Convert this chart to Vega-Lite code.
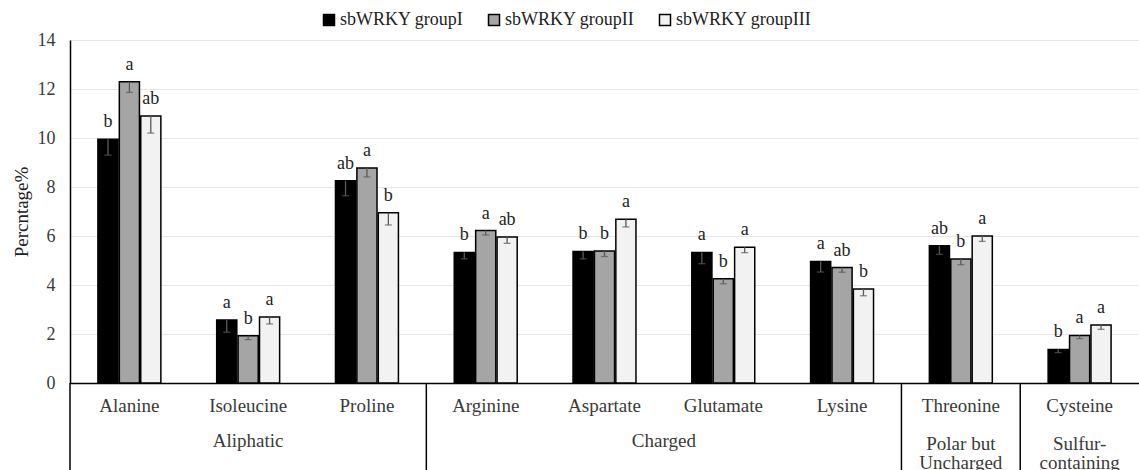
{
  "$schema": "https://vega.github.io/schema/vega-lite/v6.json",
  "width": 1069,
  "height": 343,
  "autosize": {"type": "none"},
  "padding": {"left": 70, "top": 40, "right": 0, "bottom": 87},
  "background": "white",
  "config": {
    "font": "Liberation Serif, Times New Roman, serif",
    "axis": {"labelFont": "Liberation Serif, Times New Roman, serif", "titleFont": "Liberation Serif, Times New Roman, serif"},
    "legend": {"labelFont": "Liberation Serif, Times New Roman, serif"},
    "text": {"font": "Liberation Serif, Times New Roman, serif"},
    "view": {"stroke": null}
  },
  "datasets": {
    "bars": [
      {"amino": "Alanine", "group": "sbWRKY groupI", "value": 9.95, "low": 9.30, "sig": "b"},
      {"amino": "Alanine", "group": "sbWRKY groupII", "value": 12.30, "low": 11.86, "sig": "a"},
      {"amino": "Alanine", "group": "sbWRKY groupIII", "value": 10.90, "low": 10.20, "sig": "ab"},
      {"amino": "Isoleucine", "group": "sbWRKY groupI", "value": 2.57, "low": 2.07, "sig": "a"},
      {"amino": "Isoleucine", "group": "sbWRKY groupII", "value": 1.93, "low": 1.77, "sig": "b"},
      {"amino": "Isoleucine", "group": "sbWRKY groupIII", "value": 2.69, "low": 2.41, "sig": "a"},
      {"amino": "Proline", "group": "sbWRKY groupI", "value": 8.26, "low": 7.64, "sig": "ab"},
      {"amino": "Proline", "group": "sbWRKY groupII", "value": 8.78, "low": 8.41, "sig": "a"},
      {"amino": "Proline", "group": "sbWRKY groupIII", "value": 6.95, "low": 6.45, "sig": "b"},
      {"amino": "Arginine", "group": "sbWRKY groupI", "value": 5.33, "low": 5.07, "sig": "b"},
      {"amino": "Arginine", "group": "sbWRKY groupII", "value": 6.22, "low": 6.04, "sig": "a"},
      {"amino": "Arginine", "group": "sbWRKY groupIII", "value": 5.96, "low": 5.70, "sig": "ab"},
      {"amino": "Aspartate", "group": "sbWRKY groupI", "value": 5.37, "low": 5.07, "sig": "b"},
      {"amino": "Aspartate", "group": "sbWRKY groupII", "value": 5.39, "low": 5.16, "sig": "b"},
      {"amino": "Aspartate", "group": "sbWRKY groupIII", "value": 6.68, "low": 6.37, "sig": "a"},
      {"amino": "Glutamate", "group": "sbWRKY groupI", "value": 5.33, "low": 4.87, "sig": "a"},
      {"amino": "Glutamate", "group": "sbWRKY groupII", "value": 4.26, "low": 4.05, "sig": "b"},
      {"amino": "Glutamate", "group": "sbWRKY groupIII", "value": 5.54, "low": 5.32, "sig": "a"},
      {"amino": "Lysine", "group": "sbWRKY groupI", "value": 4.96, "low": 4.53, "sig": "a"},
      {"amino": "Lysine", "group": "sbWRKY groupII", "value": 4.71, "low": 4.52, "sig": "ab"},
      {"amino": "Lysine", "group": "sbWRKY groupIII", "value": 3.84, "low": 3.56, "sig": "b"},
      {"amino": "Threonine", "group": "sbWRKY groupI", "value": 5.60, "low": 5.25, "sig": "ab"},
      {"amino": "Threonine", "group": "sbWRKY groupII", "value": 5.06, "low": 4.83, "sig": "b"},
      {"amino": "Threonine", "group": "sbWRKY groupIII", "value": 6.00, "low": 5.78, "sig": "a"},
      {"amino": "Cysteine", "group": "sbWRKY groupI", "value": 1.37, "low": 1.24, "sig": "b"},
      {"amino": "Cysteine", "group": "sbWRKY groupII", "value": 1.94, "low": 1.81, "sig": "a"},
      {"amino": "Cysteine", "group": "sbWRKY groupIII", "value": 2.37, "low": 2.19, "sig": "a"}
    ],
    "classes": [
      {"cls": "Aliphatic", "first": "Alanine", "middle": "Isoleucine", "lines": 1},
      {"cls": "Charged", "first": "Arginine", "middle": "Aspartate", "lines": 1},
      {"cls": "Polar but\nUncharged", "first": "Threonine", "middle": "Threonine", "lines": 2},
      {"cls": "Sulfur-\ncontaining", "first": "Cysteine", "middle": "Cysteine", "lines": 2}
    ]
  },
  "encoding": {
    "x": {
      "field": "amino",
      "type": "nominal",
      "scale": {
        "domain": ["Alanine", "Isoleucine", "Proline", "Arginine", "Aspartate", "Glutamate", "Lysine", "Threonine", "Cysteine"],
        "paddingInner": 0.47,
        "paddingOuter": 0.235
      },
      "axis": {
        "title": null,
        "labelAngle": 0,
        "labelFontSize": 19,
        "labelColor": "#3a3a3a",
        "labelPadding": 13,
        "ticks": false,
        "tickSize": 0,
        "domainColor": "#000000",
        "domainWidth": 1.5,
        "grid": false
      }
    }
  },
  "layer": [
    {
      "data": {"name": "bars"},
      "mark": {"type": "bar", "stroke": "#000000", "strokeWidth": 1.5},
      "encoding": {
        "xOffset": {
          "field": "group",
          "type": "nominal",
          "scale": {"paddingInner": 0.06, "paddingOuter": 0}
        },
        "y": {
          "field": "value",
          "type": "quantitative",
          "scale": {"domain": [0, 14], "nice": false},
          "axis": {
            "title": "Percntage%",
            "titleFontSize": 19,
            "titleFontWeight": "normal",
            "titleColor": "#222222",
            "titlePadding": 6,
            "values": [0, 2, 4, 6, 8, 10, 12, 14],
            "labelFontSize": 18,
            "labelColor": "#3a3a3a",
            "labelPadding": 15,
            "ticks": false,
            "tickSize": 0,
            "domainColor": "#000000",
            "domainWidth": 1.5,
            "gridColor": "#e6e6e6",
            "gridWidth": 1
          }
        },
        "fill": {
          "field": "group",
          "type": "nominal",
          "scale": {
            "domain": ["sbWRKY groupI", "sbWRKY groupII", "sbWRKY groupIII"],
            "range": ["#000000", "#a5a5a5", "#f2f2f2"]
          },
          "legend": {
            "title": null,
            "orient": "none",
            "direction": "horizontal",
            "legendX": 250,
            "legendY": -29,
            "symbolType": "square",
            "symbolSize": 121,
            "symbolStrokeColor": "#000000",
            "symbolStrokeWidth": 1.5,
            "labelFontSize": 18,
            "labelColor": "#222222",
            "labelOffset": 2,
            "columnPadding": 21
          }
        }
      }
    },
    {
      "data": {"name": "bars"},
      "mark": {"type": "rule", "color": "#5a5a5a", "strokeWidth": 1.3},
      "encoding": {
        "xOffset": {"field": "group", "type": "nominal"},
        "y": {"field": "low", "type": "quantitative"},
        "y2": {"field": "value"}
      }
    },
    {
      "data": {"name": "bars"},
      "mark": {"type": "tick", "color": "#5a5a5a", "size": 7, "thickness": 1.3, "orient": "horizontal"},
      "encoding": {
        "xOffset": {"field": "group", "type": "nominal"},
        "y": {"field": "low", "type": "quantitative"}
      }
    },
    {
      "data": {"name": "bars"},
      "mark": {"type": "text", "fontSize": 18, "color": "#222222", "baseline": "alphabetic", "dy": -12},
      "encoding": {
        "xOffset": {"field": "group", "type": "nominal"},
        "y": {"field": "value", "type": "quantitative"},
        "text": {"field": "sig"}
      }
    },
    {
      "data": {"name": "classes"},
      "mark": {"type": "rule", "color": "#000000", "strokeWidth": 1.5},
      "encoding": {
        "x": {"field": "first", "type": "nominal", "bandPosition": -0.4434},
        "y": {"datum": 0},
        "y2": {"datum": -3.6}
      }
    },
    {
      "data": {"name": "classes"},
      "transform": [{"filter": "datum.cls === 'Aliphatic'"}],
      "mark": {"type": "text", "fontSize": 19, "color": "#3a3a3a", "baseline": "top", "dy": 49},
      "encoding": {
        "x": {"field": "middle", "type": "nominal"},
        "y": {"datum": 0},
        "text": {"field": "cls"}
      }
    },
    {
      "data": {"name": "classes"},
      "transform": [{"filter": "datum.cls === 'Charged'"}],
      "mark": {"type": "text", "fontSize": 19, "color": "#3a3a3a", "baseline": "top", "dy": 49},
      "encoding": {
        "x": {"field": "middle", "type": "nominal", "bandPosition": 1.4434},
        "y": {"datum": 0},
        "text": {"field": "cls"}
      }
    },
    {
      "data": {"name": "classes"},
      "transform": [{"filter": "datum.lines === 2"}],
      "mark": {"type": "text", "fontSize": 19, "color": "#3a3a3a", "baseline": "top", "lineBreak": "\n", "lineHeight": 19, "dy": 52},
      "encoding": {
        "x": {"field": "middle", "type": "nominal"},
        "y": {"datum": 0},
        "text": {"field": "cls"}
      }
    }
  ]
}
